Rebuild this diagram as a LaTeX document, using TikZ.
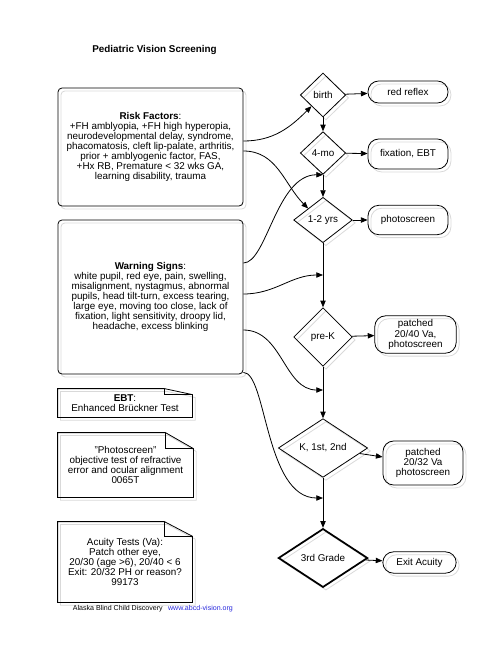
\documentclass[tikz,border=0pt]{standalone}
\usepackage{fontspec}
\setmainfont{Liberation Sans}
\usetikzlibrary{shapes.geometric,arrows.meta}
\definecolor{linkblue}{RGB}{40,40,220}
\begin{document}
\begin{tikzpicture}[x=0.75pt, y=0.75pt, line width=0.6pt,
		every node/.style={font=\fontsize{7.4}{7.6}\selectfont},
		>={Triangle[length=5pt,width=4pt]},
		ghost/.style={preaction={draw=black!15, line width=0.6pt, transform canvas={xshift=2.2pt, yshift=-2.2pt}}},
		infobox/.style={rectangle, rounded corners=3pt, draw, ghost, align=center, minimum width=138.75pt},
		decision/.style={diamond, draw, ghost, inner sep=0pt},
		terminal/.style={rectangle, rounded corners=8pt, draw, ghost, align=center, inner sep=2pt, minimum width=60pt},
		note/.style={align=center, inner sep=0pt}]

	\useasboundingbox (0,0) rectangle (500,-647);

	% ===== title =====
	\node[font=\bfseries\fontsize{7.4}{7.6}\selectfont] (title) at (154.5,-50) {Pediatric Vision Screening};

	% ===== left column =====
	\node[infobox, minimum height=88.5pt] (risk) at (150.5,-147) {\textbf{Risk Factors}:\\+FH amblyopia, +FH high hyperopia,\\neurodevelopmental delay, syndrome,\\phacomatosis, cleft lip-palate, arthritis,\\prior + amblyogenic factor, FAS,\\+Hx RB, Premature < 32 wks GA,\\learning disability, trauma};
	\node[infobox, minimum height=115.5pt] (warn) at (150.5,-297) {\textbf{Warning Signs}:\\white pupil, red eye, pain, swelling,\\misalignment, nystagmus, abnormal\\pupils, head tilt-turn, excess tearing,\\large eye, moving too close, lack of\\fixation, light sensitivity, droopy lid,\\headache, excess blinking};

	\node[note, minimum width=100.5pt, minimum height=21pt] (ebt) at (125,-403) {\textbf{EBT}:\\Enhanced Brückner Test};
	\node[note, minimum width=101.25pt, minimum height=48pt] (scr) at (125.5,-465) {"Photoscreen"\\objective test of refractive\\error and ocular alignment\\0065T};
	\node[note, minimum width=100.5pt, minimum height=60pt] (acu) at (125,-562) {Acuity Tests (Va):\\Patch other eye,\\20/30 (age >6), 20/40 < 6\\Exit: 20/32 PH or reason?\\99173};
	\foreach \n/\fh in {ebt/4.5, scr/12, acu/11} {
		\draw[black!15, transform canvas={xshift=2.2pt, yshift=-2.2pt}] (\n.north west) -- ([xshift=-21pt]\n.north east) -- ([yshift=-\fh pt]\n.north east) -- (\n.south east) -- (\n.south west) -- cycle;
		\draw (\n.north west) -- ([xshift=-21pt]\n.north east) -- ([yshift=-\fh pt]\n.north east) -- (\n.south east) -- (\n.south west) -- cycle;
		\draw ([xshift=-21pt]\n.north east) |- ([yshift=-\fh pt]\n.north east);
	}

	\node[anchor=west, font=\fontsize{5.3}{6}\selectfont] (foot) at (68,-609) {Alaska Blind Child Discovery\hspace{4pt}\textcolor{linkblue}{www.abcd-vision.org}};

	% ===== ages =====
	\node[decision, minimum width=34pt, minimum height=33pt] (birth) at (323,-95) {birth};
	\node[decision, minimum width=34pt, minimum height=32pt] (mo4) at (323,-153) {4-mo};
	\node[decision, minimum width=44pt, minimum height=34pt] (yrs) at (323,-220) {1-2 yrs};
	\node[decision, minimum width=44pt, minimum height=44pt] (prek) at (323,-337) {pre-K};
	\node[decision, minimum width=67pt, minimum height=44pt] (kgr) at (323,-448) {K, 1st, 2nd};
	\node[decision, minimum width=67pt, minimum height=44pt, line width=1.3pt] (third) at (323,-558) {3rd Grade};

	% ===== tests =====
	\node[terminal, minimum height=16.5pt] (red) at (408,-92) {red reflex};
	\node[terminal, minimum height=22.5pt] (fix) at (408,-154) {fixation, EBT};
	\node[terminal, minimum height=22pt] (photo) at (408,-220) {photoscreen};
	\node[terminal, minimum width=61pt, minimum height=28pt] (pat1) at (415.5,-334.5) {patched\\20/40 Va,\\photoscreen};
	\node[terminal, minimum height=33pt] (pat2) at (423,-463) {patched\\20/32 Va\\photoscreen};
	\node[terminal, minimum width=55pt, minimum height=16pt] (exit) at (419.5,-562.5) {Exit Acuity};

	\coordinate (j1) at (323,-275);
	\coordinate (j2) at (323,-390);
	\coordinate (j3) at (323,-498);

	% ===== arrows =====
	\draw[->] (birth) -- (mo4);
	\draw[->] (mo4) -- (yrs);
	\draw[->] (yrs) -- (prek);
	\draw[->] (prek) -- (kgr);
	\draw[->] (kgr) -- (third);

	\draw[->] (birth) -- (red);
	\draw[->] (mo4) -- (fix);
	\draw[->] (yrs) -- (photo);
	\draw[->] (prek) -- (pat1);
	\draw[->] (kgr) -- (pat2);
	\draw[->] (third) -- (exit);

	\draw[->] ([yshift=4.5pt]risk.east) to[out=0, in=225] (birth.south west);
	\draw[->] ([yshift=-3pt]risk.east) to[out=0, in=135] (yrs.north west);
	\draw[->] ([yshift=25.5pt]warn.east) to[out=0, in=180, out looseness=0.5] (mo4.south);
	\draw[->] ([yshift=2.25pt]warn.east) to[out=0, in=180] (j1);
	\draw[->] ([yshift=-24.75pt]warn.east) to[out=0, in=180] (j2);
	\draw[->] ([yshift=1.5pt]warn.south east) to[out=0, in=180, out looseness=0.4] (j3);
\end{tikzpicture}
\end{document}
